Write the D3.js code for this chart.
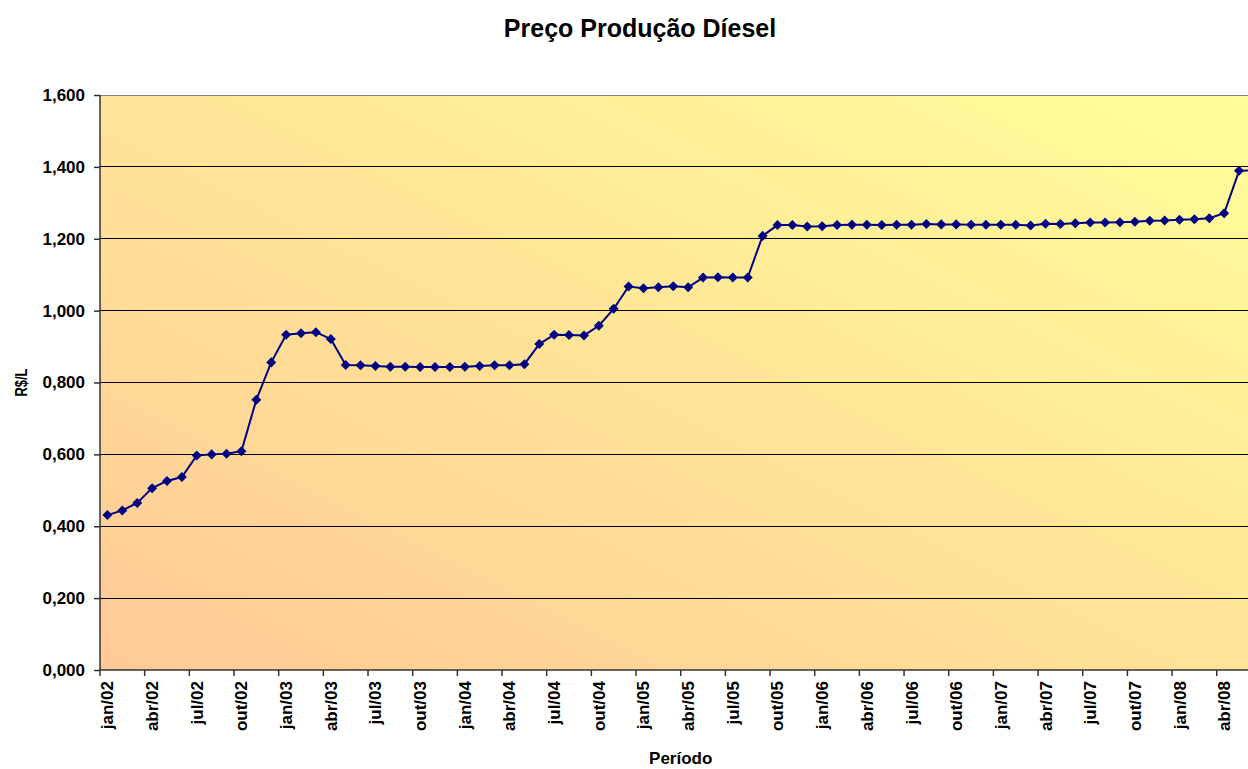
<!DOCTYPE html>
<html>
<head>
<meta charset="utf-8">
<script src="https://cdn.jsdelivr.net/npm/d3@7"></script>
<style>
    body { margin: 0; background: #fff; overflow: hidden; }
    text { font-family: "Liberation Sans", Arial, sans-serif; font-weight: bold; fill: #000; }
</style>
</head>
<body>
<svg id="chart" width="1248" height="769"></svg>
<script>
"use strict";

var monthNames = ["jan", "fev", "mar", "abr", "mai", "jun", "jul", "ago", "set", "out", "nov", "dez"];
var years = ["02", "03", "04", "05", "06", "07", "08"];

// jan/02 .. jun/08
var periods = [];
years.forEach(function (y) {
    monthNames.forEach(function (m) {
        periods.push(m + "/" + y);
    });
});
periods = periods.slice(0, 78);

var prices = [
    0.431, 0.444, 0.465, 0.506, 0.526, 0.537, 0.597, 0.600, 0.602, 0.609, 0.752, 0.856,
    0.933, 0.937, 0.940, 0.921, 0.849, 0.848, 0.846, 0.844, 0.844, 0.843, 0.843, 0.843,
    0.844, 0.846, 0.848, 0.848, 0.851, 0.907, 0.933, 0.932, 0.931, 0.958, 1.005, 1.067,
    1.062, 1.065, 1.068, 1.065, 1.092, 1.093, 1.092, 1.092, 1.208, 1.238, 1.238, 1.234,
    1.235, 1.238, 1.239, 1.239, 1.238, 1.239, 1.239, 1.241, 1.240, 1.240, 1.239, 1.239,
    1.239, 1.239, 1.237, 1.242, 1.241, 1.243, 1.245, 1.245, 1.246, 1.247, 1.250, 1.251,
    1.253, 1.254, 1.257, 1.271, 1.389, 1.390
];

var yTicks = [0, 0.2, 0.4, 0.6, 0.8, 1.0, 1.2, 1.4, 1.6];

var title = "Preço Produção Díesel",
    xTitle = "Período",
    yTitle = "R$/L";

(function () {
    var svg = d3.select("#chart"),
        left = 100,
        top = 95,
        bottom = 670,
        right = left + periods.length * 14.89,
        x,
        y,
        grad,
        plot,
        fmt = d3.format(".3f");

    x = d3.scaleBand().domain(periods).range([left, right]).padding(0);
    y = d3.scaleLinear().domain([0, 1.6]).range([bottom, top]);

    grad = svg.append("defs").append("linearGradient")
        .attr("id", "bg")
        .attr("x1", 0).attr("y1", 1)
        .attr("x2", 1).attr("y2", 0);
    grad.append("stop").attr("offset", "0%").attr("stop-color", "#ffc996");
    grad.append("stop").attr("offset", "100%").attr("stop-color", "#ffff99");

    svg.append("rect")
        .attr("x", left).attr("y", top)
        .attr("width", right - left).attr("height", bottom - top)
        .attr("fill", "url(#bg)");

    // gridlines
    svg.append("g").selectAll("line")
        .data(yTicks.slice(1))
        .join("line")
        .attr("x1", left).attr("x2", right)
        .attr("y1", function (d) { return y(d); })
        .attr("y2", function (d) { return y(d); })
        .attr("stroke", function (d) { return d === 1.6 ? "#808080" : "#000"; })
        .attr("stroke-width", 1)
        .attr("shape-rendering", "crispEdges");

    // y axis
    var yAxis = d3.axisLeft(y)
        .tickValues(yTicks)
        .tickSize(6)
        .tickPadding(9)
        .tickFormat(function (d) { return fmt(d).replace(".", ","); });
    var gy = svg.append("g")
        .attr("transform", "translate(" + left + ",0)")
        .call(yAxis);
    gy.selectAll("text").style("font-size", "17px");
    gy.selectAll("line, path").attr("stroke", "#333").attr("stroke-width", 1.5);
    gy.select(".domain").attr("d", "M0," + top + "V" + bottom);

    // x axis: ticks between categories every 3 months, labels on category centre
    var xg = svg.append("g");
    var bounds = d3.range(0, periods.length + 1, 3);
    xg.append("line")
        .attr("x1", left).attr("x2", right)
        .attr("y1", bottom).attr("y2", bottom)
        .attr("stroke", "#333").attr("stroke-width", 1.5);
    xg.selectAll("line.tick")
        .data(bounds)
        .join("line")
        .attr("class", "tick")
        .attr("x1", function (i) { return left + i * x.bandwidth(); })
        .attr("x2", function (i) { return left + i * x.bandwidth(); })
        .attr("y1", bottom).attr("y2", bottom + 6)
        .attr("stroke", "#333").attr("stroke-width", 1.5);
    xg.selectAll("text")
        .data(periods.filter(function (d, i) { return i % 3 === 0; }))
        .join("text")
        .attr("transform", function (d) {
            return "translate(" + (x(d) + x.bandwidth() / 2 + 6) + "," + (bottom + 11) + ") rotate(-90)";
        })
        .attr("text-anchor", "end")
        .style("font-size", "17px")
        .text(function (d) { return d; });

    // series
    plot = svg.append("g");
    plot.append("path")
        .datum(prices)
        .attr("fill", "none")
        .attr("stroke", "#000080")
        .attr("stroke-width", 2)
        .attr("d", d3.line()
            .x(function (d, i) { return x(periods[i]) + x.bandwidth() / 2; })
            .y(function (d) { return y(d); }));

    plot.selectAll("path.mk")
        .data(prices)
        .join("path")
        .attr("class", "mk")
        .attr("fill", "#000080")
        .attr("d", d3.symbol().type(d3.symbolDiamond2).size(64))
        .attr("transform", function (d, i) {
            return "translate(" + (x(periods[i]) + x.bandwidth() / 2) + "," + y(d) + ")";
        });

    // titles
    svg.append("text")
        .attr("x", 640).attr("y", 37)
        .attr("text-anchor", "middle")
        .style("font-size", "25px")
        .text(title);

    svg.append("text")
        .attr("x", (left + right) / 2).attr("y", 764)
        .attr("text-anchor", "middle")
        .style("font-size", "17px")
        .text(xTitle);

    svg.append("text")
        .attr("transform", "translate(27," + ((top + bottom) / 2) + ") rotate(-90)")
        .attr("text-anchor", "middle")
        .attr("textLength", 28)
        .attr("lengthAdjust", "spacingAndGlyphs")
        .style("font-size", "16px")
        .text(yTitle);
}());
</script>
</body>
</html>
